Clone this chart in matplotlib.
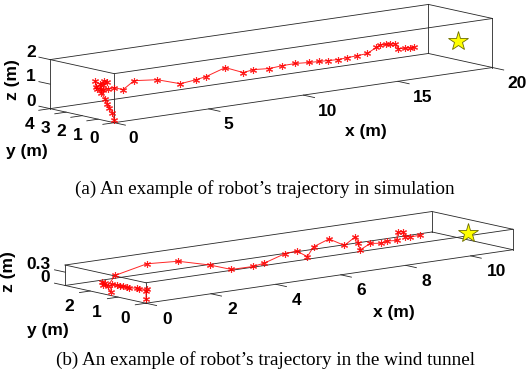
import numpy as np
import matplotlib
matplotlib.use("Agg")
import matplotlib.pyplot as plt
from mpl_toolkits.mplot3d import proj3d

# ---------------- data: (a) simulation ----------------
sim_x = [0.2, 0.3, 0.3, 0.3, 0.3, 0.3, 0.3, 0.3, 0.3, 0.3, 0.3, 0.3, 0.3, 0.3, 0.3, 0.3,
         1.02, 1.49, 2.07, 3.29, 4.51, 5.36, 5.88, 6.89, 7.84, 8.37, 9.22, 9.91, 10.60,
         11.33, 11.86, 12.34, 12.87, 13.34, 13.87, 14.40, 14.88, 15.09, 15.36, 15.62,
         15.88, 16.04, 16.41, 16.68, 16.89]
sim_y = [0.24, 0.48, 0.67, 0.79, 0.92, 1.17, 1.17, 1.23, 0.98, 0.79, 1.04, 1.48, 1.54,
         1.42, 1.04, 0.73, 1.2, 1.2, 1.2, 1.2, 1.2, 1.2, 1.2, 1.2, 1.2, 1.2, 1.2, 1.2, 1.2,
         1.2, 1.2, 1.2, 1.2, 1.2, 1.2, 1.2, 1.2, 1.2, 1.2, 1.2, 1.2, 1.2, 1.2, 1.2, 1.2]
sim_z = [0.07, 0.31, 0.48, 0.63, 0.81, 1.02, 1.19, 1.38, 1.54, 1.53, 1.37, 1.22, 1.46,
         1.15, 1.16, 1.25, 1.14, 1.01, 1.31, 1.21, 0.91, 0.98, 1.05, 1.30, 0.99, 1.05,
         1.00, 1.04, 1.05, 1.01, 0.99, 0.975, 0.955, 0.98, 1.00, 1.03, 1.23, 1.31, 1.29,
         1.27, 1.26, 1.04, 1.02, 1.00, 1.01]
sim_goal = [19.2, 1.2, 1.0]
sim_xlim, sim_ylim, sim_zlim = [0, 20], [0, 4], [0, 2]
sim_xticks, sim_yticks, sim_zticks = [0, 5, 10, 15, 20], [0, 1, 2, 3, 4], [0, 1, 2]

# ---------------- data: (b) wind tunnel ----------------
tun_x = [0.0, 0.0, 0.03, 0.13, 0.17, 0.03, 0.07, 0.05, 0.05, 0.05, 0.04, 0.10, 0.0, 0.07,
         0.18, 0.0, 0.64, 1.92, 2.71, 3.43, 4.09, 4.76, 5.11, 5.74, 6.10, 6.43, 6.62,
         7.27, 7.57, 7.91, 8.00, 8.05, 8.37, 8.69, 8.87, 9.18, 9.21, 9.38, 9.43, 9.58, 9.90]
tun_y = [0.0, 0.0, 0.0, 0.40, 0.53, 0.64, 0.77, 0.88, 0.99, 1.11, 1.28, 1.38, 1.47, 1.67,
         1.74, 1.37, 1.86, 2.2, 2.0, 1.7, 1.7, 1.7, 1.7, 1.7, 1.7, 1.7, 1.7, 1.9, 1.7,
         1.7, 1.7, 1.7, 1.7, 1.7, 1.7, 1.7, 1.7, 1.7, 1.7, 1.7, 1.7]
tun_z = [0.09, 0.27, 0.31, 0.25, 0.25, 0.25, 0.25, 0.25, 0.25, 0.25, 0.25, 0.05, 0.25,
         0.25, 0.15, 0.20, 0.30, 0.38, 0.38, 0.26, 0.09, 0.086, 0.126, 0.27, 0.29, 0.13,
         0.33, 0.41, 0.26, 0.42, 0.27, 0.105, 0.22, 0.19, 0.22, 0.20, 0.38, 0.38, 0.26,
         0.235, 0.24]
tun_goal = [11.1, 1.39, 0.2]
tun_xlim, tun_ylim, tun_zlim = [0, 11.3], [0, 2.9], [0, 0.46]
tun_xticks, tun_yticks, tun_zticks = [0, 2, 4, 6, 8, 10], [0, 1, 2], [0, 0.3]

captions = ["(a) An example of robot\u2019s trajectory in simulation",
            "(b) An example of robot\u2019s trajectory in the wind tunnel"]

# ---------------- layout ----------------
W, H = 530, 387
ELEV, AZIM = 10.3, -129.2
EDGE = "#262626"
TICKFONT = dict(family="Liberation Sans", weight="bold", size=12.5, color="black")

fig = plt.figure(figsize=(W / 100, H / 100), dpi=100)


def to_px(ax, x, y, z):
    xs, ys, _ = proj3d.proj_transform(np.atleast_1d(np.asarray(x, float)),
                                      np.atleast_1d(np.asarray(y, float)),
                                      np.atleast_1d(np.asarray(z, float)), ax.get_proj())
    return ax.transData.transform(np.column_stack([xs, ys]))


def panel(xlim, ylim, zlim, aspect, targets):
    ax = fig.add_axes([0.1, 0.1, 0.5, 0.5 * W / H], projection="3d",
                      proj_type="ortho", computed_zorder=False)
    ax.set_xlim(*xlim); ax.set_ylim(*ylim); ax.set_zlim(*zlim)
    ax.set_box_aspect(aspect)
    ax.view_init(elev=ELEV, azim=AZIM)
    ax.set_axis_off()
    ax.patch.set_alpha(0)
    fig.canvas.draw()
    pos = ax.get_position()
    x0, y0, s0 = pos.x0 * W, pos.y0 * H, pos.width * W
    pts = np.array([t[0] for t in targets], float)
    tgt = np.array([[t[1][0], H - t[1][1]] for t in targets], float)
    d = to_px(ax, pts[:, 0], pts[:, 1], pts[:, 2])
    u = (d - [x0, y0]) / s0
    A, b = [], []
    for (ux, uy), (tx, ty) in zip(u, tgt):
        A.append([1, 0, ux]); b.append(tx)
        A.append([0, 1, uy]); b.append(ty)
    L, B, S = np.linalg.lstsq(np.array(A), np.array(b), rcond=None)[0]
    ax.set_position([L / W, B / H, S / W, S / H])
    return ax


def draw_box(ax, xlim, ylim, zlim):
    (x0, x1), (y0, y1), (z0, z1) = xlim, ylim, zlim
    for y in (y0, y1):
        for z in (z0, z1):
            ax.plot([x0, x1], [y, y], [z, z], color=EDGE, lw=0.6)
    for x in (x0, x1):
        for z in (z0, z1):
            ax.plot([x, x], [y0, y1], [z, z], color=EDGE, lw=0.6)
        for y in (y0, y1):
            ax.plot([x, x], [y, y], [z0, z1], color=EDGE, lw=0.6)


def draw_ticks(ax, xlim, ylim, zlim, xt, yt, zt, dx, dy, dz):
    for v in xt:
        ax.plot([v, v], [ylim[0], ylim[0] - dy], [zlim[0]] * 2, color=EDGE, lw=0.6)
    for v in yt:
        ax.plot([xlim[0], xlim[0] - dx], [v, v], [zlim[0]] * 2, color=EDGE, lw=0.6)
    for v in zt:
        ax.plot([xlim[0]] * 2, [ylim[1], ylim[1] + dz], [v, v], color=EDGE, lw=0.6)


def tick_labels(ax, xlim, ylim, zlim, xt, yt, zt, xoff, yoff, zoff, zfmt):
    for v in xt:
        px, py = to_px(ax, v, ylim[0], zlim[0])[0]
        fig.text((px + xoff[0]) / W, (py - xoff[1]) / H, f"{v:g}", ha="left",
                 va="center", **TICKFONT)
    for v in yt:
        px, py = to_px(ax, xlim[0], v, zlim[0])[0]
        fig.text((px + yoff[0]) / W, (py - yoff[1]) / H, f"{v:g}", ha="center",
                 va="center", **TICKFONT)
    for v in zt:
        px, py = to_px(ax, xlim[0], ylim[1], v)[0]
        fig.text((px + zoff[0]) / W, (py - zoff[1]) / H, zfmt(v), ha="right",
                 va="center", **TICKFONT)


def trajectory(ax, xs, ys, zs, goal):
    ax.plot(xs, ys, zs, color="#ff0000", lw=0.7, marker=(6, 2, 0), ms=5, mew=0.8,
            alpha=0.85)
    ax.plot([goal[0]], [goal[1]], [goal[2]], marker="*", ms=15, mfc="#ffff00",
            mec="#6b6b00", mew=0.6, ls="none")


# ---- panel (a)
axA = panel(sim_xlim, sim_ylim, sim_zlim, (487.7, 101.3, 49.8), [
    ((0, 0, 0), (114, 122)), ((20, 0, 0), (492, 67)), ((0, 4, 0), (50, 108)),
    ((0, 0, 2), (114, 73)), ((20, 4, 2), (430, 5)), ((0, 4, 2), (50, 61)),
    ((20, 0, 2), (492, 19))])
draw_box(axA, sim_xlim, sim_ylim, sim_zlim)
draw_ticks(axA, sim_xlim, sim_ylim, sim_zlim, sim_xticks, sim_yticks, sim_zticks,
           0.6, 0.7, 0.7)
trajectory(axA, sim_x, sim_y, sim_z, sim_goal)

# ---- panel (b)
axB = panel(tun_xlim, tun_ylim, tun_zlim, (473.5, 128.0, 20.8), [
    ((0, 0, 0), (146, 303)), ((11.3, 0, 0), (513, 249)), ((0, 2.9, 0), (65, 285)),
    ((0, 0, 0.46), (146, 282.5)), ((0, 2.9, 0.46), (65, 265.5)),
    ((11.3, 0, 0.46), (513, 229)), ((11.3, 2.9, 0.46), (432, 213))])
draw_box(axB, tun_xlim, tun_ylim, tun_zlim)
draw_ticks(axB, tun_xlim, tun_ylim, tun_zlim, tun_xticks, tun_yticks, tun_zticks,
           0.33, 0.38, 0.38)
trajectory(axB, tun_x, tun_y, tun_z, tun_goal)

fig.canvas.draw()
tick_labels(axA, sim_xlim, sim_ylim, sim_zlim, sim_xticks, sim_yticks, sim_zticks,
            (14.5, 16), (-20.5, 16), (-14, -7.5), lambda v: f"{v:g}")
tick_labels(axB, tun_xlim, tun_ylim, tun_zlim, tun_xticks, tun_yticks, tun_zticks,
            (16, 16), (-21, 15.5), (-15, -7.5), lambda v: f"{v:g}")

LABF = dict(family="Liberation Sans", weight="bold", size=12.5, ha="center", va="center")
fig.text(366 / W, 1 - 132 / H, "x (m)", **LABF)
fig.text(27 / W, 1 - 152 / H, "y (m)", **LABF)
fig.text(13 / W, 1 - 80 / H, "z (m)", rotation=90, **LABF)
fig.text(394 / W, 1 - 313 / H, "x (m)", **LABF)
fig.text(48 / W, 1 - 331 / H, "y (m)", **LABF)
fig.text(9 / W, 1 - 272 / H, "z (m)", rotation=90, **LABF)

CAPF = dict(family="Liberation Serif", size=13.8, ha="center", va="center")
fig.text(265 / W, 1 - 189 / H, captions[0], **CAPF)
fig.text(266 / W, 1 - 360 / H, captions[1], **CAPF)

fig.savefig("out.png", dpi=100)
